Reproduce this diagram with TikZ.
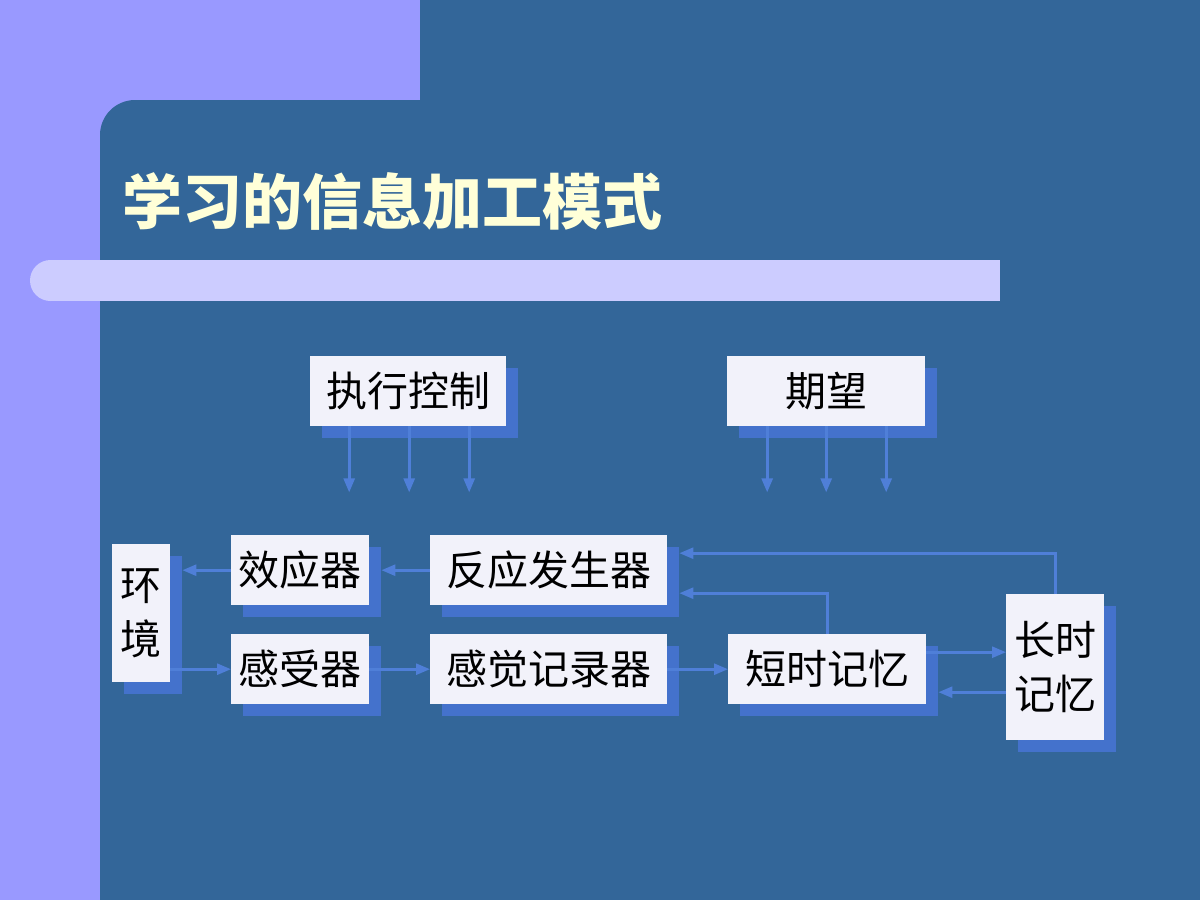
\documentclass[tikz,border=0pt]{standalone}
\usepackage{fontspec}
\newfontfamily\cjk{Noto Sans CJK SC}
\usetikzlibrary{arrows.meta,shadows,calc}
\definecolor{lav}{HTML}{9999FF}
\definecolor{dblue}{HTML}{336699}
\definecolor{barc}{HTML}{CCCCFF}
\definecolor{boxc}{HTML}{F2F2FA}
\definecolor{shad}{HTML}{4472CC}
\definecolor{conc}{HTML}{4F7FD8}
\definecolor{titc}{HTML}{FFFFD8}
\begin{document}
\begin{tikzpicture}[x=1pt,y=-1pt,
  box/.style={fill=boxc, inner sep=0pt, anchor=north west, align=center,
    font=\cjk\fontsize{41}{54}\selectfont,
    drop shadow={shadow xshift=12pt,shadow yshift=-12pt,fill=shad,opacity=1}},
  conn/.style={draw=conc, line width=2.6pt, -{Triangle[length=14pt,width=11pt]}}]
\useasboundingbox (0,0) rectangle (1200,900);
% background
\fill[lav] (0,0) rectangle (1200,900);
\fill[dblue] (420,0) rectangle (1200,900);
\fill[dblue] (100,900) [rounded corners=35pt] -- (100,100) -- (1200,100) [sharp corners] -- (1200,900) -- cycle;
% bar
\fill[barc] (50.5,260) rectangle (1000,301);
\fill[barc] (50.5,280.5) circle[radius=20.5];
% title
\node[anchor=west, text=titc, inner sep=0pt, font=\cjk\bfseries\fontsize{60}{62}\selectfont] (title) at (122,201) {学习的信息加工模式};
% boxes
\node[box, minimum width=196pt, minimum height=70pt] (exec) at (310,356) {执行控制};
\node[box, minimum width=198pt, minimum height=70pt] (expt) at (727,356) {期望};
\node[box, minimum width=58pt, minimum height=138pt] (env) at (112,544) {环\\境};
\node[box, minimum width=138pt, minimum height=70pt] (eff) at (231,535) {效应器};
\node[box, minimum width=138pt, minimum height=70pt] (sens) at (231,634) {感受器};
\node[box, minimum width=237pt, minimum height=70pt] (resp) at (430,535) {反应发生器};
\node[box, minimum width=237pt, minimum height=70pt] (sreg) at (430,634) {感觉记录器};
\node[box, minimum width=198pt, minimum height=70pt] (stm) at (728,634) {短时记忆};
\node[box, minimum width=98pt, minimum height=146pt] (ltm) at (1006,594) {长时\\记忆};
% connectors
\draw[conn, shorten >=12pt] (eff.west) -- (env.east |- eff.west);
\draw[conn] (env.east |- sens.west) -- (sens.west);
\draw[conn, shorten >=12pt] (resp.west) -- (eff.east |- resp.west);
\draw[conn] (sens.east) -- (sreg.west);
\draw[conn] (sreg.east) -- (stm.west);
\coordinate (a1) at ($(stm.east)+(0,-17)$);
\coordinate (a2) at ($(stm.east)+(0,23)$);
\draw[conn] (a1) -- (a1 -| ltm.west);
\draw[conn, shorten >=12pt] (a2 -| ltm.west) -- (a2);
\coordinate (b1) at ($(resp.east)+(0,23)$);
\coordinate (b2) at ($(resp.east)+(0,-17)$);
\draw[conn, shorten >=12pt] (stm.north) |- (b1);
\draw[conn, shorten >=12pt] (ltm.north) |- (b2);
\foreach \dx [count=\i] in {-59,1,61} {
  \coordinate (e\i) at ($(exec.south)+(\dx,0)$);
  \coordinate (ee\i) at ($(e\i)+(0,66)$);
  \draw[conn] (e\i) -- (ee\i);
}
\foreach \dx [count=\i] in {-59,0,60} {
  \coordinate (p\i) at ($(expt.south)+(\dx,0)$);
  \coordinate (pp\i) at ($(p\i)+(0,66)$);
  \draw[conn] (p\i) -- (pp\i);
}
\end{tikzpicture}
\end{document}
